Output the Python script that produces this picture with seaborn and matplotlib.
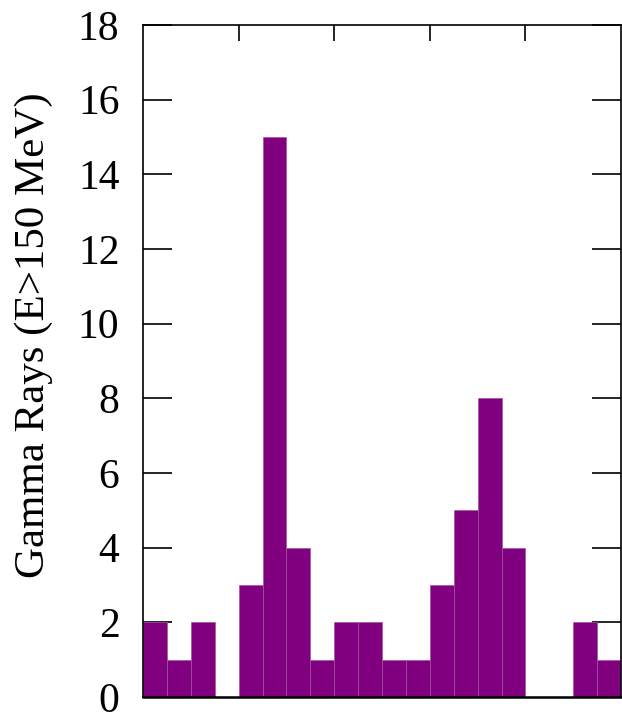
import numpy as np
import pandas as pd
import matplotlib
matplotlib.use("Agg")
import matplotlib.pyplot as plt
import seaborn as sns

# Data: counts per bin (20 bins)
bin_index = list(range(20))
counts = [2, 1, 2, 0, 3, 15, 4, 1, 2, 2, 1, 1, 3, 5, 8, 4, 0, 0, 2, 1]
y_ticks = [0, 2, 4, 6, 8, 10, 12, 14, 16, 18]
x_ticks = [4, 8, 12, 16]
y_label = "Gamma Rays (E>150 MeV)"

sns.set_style("white")
plt.rcParams['font.family'] = ['Liberation Serif', 'DejaVu Serif']
plt.rcParams['text.color'] = 'black'
plt.rcParams['axes.labelcolor'] = 'black'
plt.rcParams['ytick.color'] = 'black'
plt.rcParams['xtick.color'] = 'black'

df = pd.DataFrame({"x": [b + 0.5 for b in bin_index], "w": counts})

fig = plt.figure(figsize=(6.22, 7.15), dpi=100)
ax = fig.add_axes([143/622, 1 - 697/715, (621 - 143)/622, (697 - 25)/715])

sns.histplot(data=df, x="x", weights="w", binwidth=1, binrange=(0, 20),
             color="#800080", alpha=1.0, edgecolor="#a255a2", linewidth=0.5, ax=ax)

ax.set_xlim(0, 20)
ax.set_ylim(0, 18)
ax.set_yticks(y_ticks)
ax.set_xticks(x_ticks)
ax.set_xticklabels([])
ax.set_xlabel("")
ax.set_ylabel(y_label, fontsize=31)
ax.yaxis.set_label_coords((53 - 143) / 478, 0.539)
ax.tick_params(axis='y', direction='in', length=21, width=1.2, labelsize=30,
               left=True, right=True, pad=17, colors='black')
ax.tick_params(axis='x', direction='in', length=11.5, width=1.2,
               top=True, bottom=False, labelbottom=False, colors='black')
for s in ax.spines.values():
    s.set_visible(True)
    s.set_color('black')
    s.set_linewidth(1.2)
ax.spines['bottom'].set_linewidth(1.8)

fig.savefig("out.png", dpi=100)
